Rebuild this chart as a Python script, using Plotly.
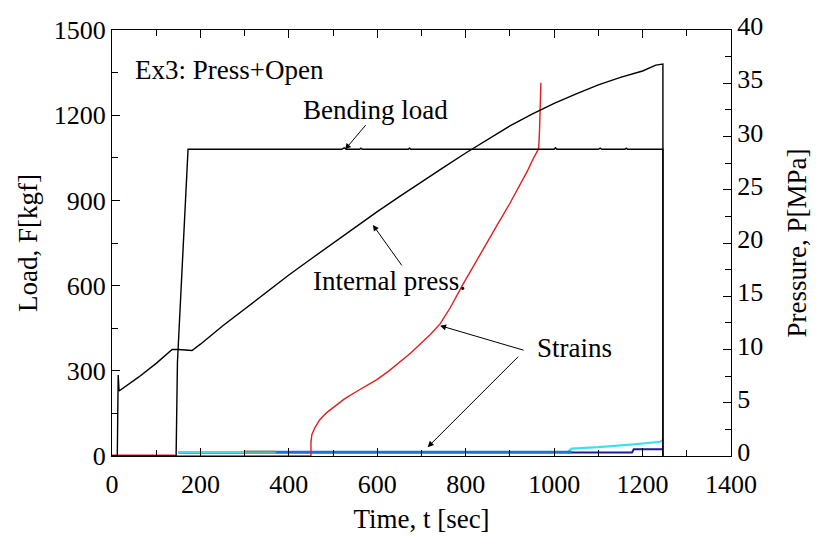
import plotly.graph_objects as go

# ---------------- data ----------------
# Internal pressure (MPa, right axis)
press_t = [0, 12, 14, 16, 60, 100, 136, 150, 181, 200, 250, 300, 350, 400, 450, 500, 550, 600,
           650, 700, 750, 800, 850, 900, 950, 1000, 1050, 1100, 1150, 1200, 1230, 1246, 1246]
press_p = [0, 0, 7.6, 6.1, 7.4, 8.7, 10.0, 10.0, 9.9, 10.5, 12.2, 13.8, 15.4, 17.0, 18.5, 20.0, 21.5, 22.95,
           24.35, 25.75, 27.1, 28.45, 29.75, 31.0, 32.1, 33.1, 34.0, 34.85, 35.55, 36.15, 36.7, 36.8, 0]

# Bending load (kgf, left axis)
load_t = [0, 145, 148, 172, 520, 525, 530, 560, 563, 566, 670, 673, 676, 1000, 1003, 1006,
          1100, 1104, 1108, 1160, 1163, 1166, 1246, 1246]
load_f = [0, 0, 330, 1080, 1080, 1085, 1080, 1080, 1084, 1080, 1080, 1084, 1080, 1080, 1085, 1080,
          1080, 1084, 1080, 1080, 1084, 1080, 1080, 0]

# Strains (plotted on load scale)
red_t = [0, 140, 145, 450, 450, 452, 459, 470, 485, 500, 525, 554, 575, 599, 625, 651, 675, 696,
         720, 742, 765, 794, 830, 870, 900, 922, 940, 952, 960, 965, 967, 968, 970]
red_v = [3, 3, 0, 0, 50, 75, 100, 128, 152, 170, 200, 228, 248, 269, 298, 331, 362, 393,
         428, 465, 522, 605, 700, 810, 890, 952, 1005, 1045, 1068, 1082, 1150, 1200, 1314]

navy_t = [150, 1176, 1180, 1246]
navy_v = [12, 12, 24, 24]

cyan_t = [150, 1030, 1040, 1100, 1180, 1240, 1246]
cyan_v = [14, 14, 26, 31, 41, 50, 56]

olive_t = [300, 370]
olive_v = [16, 16]

blue_t = [370, 1040]
blue_v = [14, 14]

x_ticks = [0, 200, 400, 600, 800, 1000, 1200, 1400]
y_ticks = [0, 300, 600, 900, 1200, 1500]
y2_ticks = [0, 5, 10, 15, 20, 25, 30, 35, 40]

FONT = "Liberation Serif"
TICK_SIZE = 26

fig = go.Figure()
fig.add_trace(go.Scatter(x=navy_t, y=navy_v, mode="lines", line=dict(color="#1c1c9a", width=2)))
fig.add_trace(go.Scatter(x=cyan_t, y=cyan_v, mode="lines", line=dict(color="#3fe0ee", width=2.2)))
fig.add_trace(go.Scatter(x=olive_t, y=olive_v, mode="lines", line=dict(color="#8c8472", width=2)))
fig.add_trace(go.Scatter(x=blue_t, y=blue_v, mode="lines", line=dict(color="#1f6fe0", width=2.5)))
fig.add_trace(go.Scatter(x=red_t, y=red_v, mode="lines", line=dict(color="#e01e1e", width=1.4)))
fig.add_trace(go.Scatter(x=load_t, y=load_f, mode="lines", line=dict(color="black", width=1.4)))
fig.add_trace(go.Scatter(x=press_t, y=press_p, mode="lines", yaxis="y2",
                         line=dict(color="black", width=1.4)))

axis_common = dict(showgrid=False, zeroline=False, showline=True, linecolor="black", linewidth=1.3,
                   ticks="inside", ticklen=8, tickcolor="black", tickwidth=1.3,
                   tickfont=dict(family=FONT, size=TICK_SIZE, color="black"))
title_font = dict(family=FONT, size=27, color="black")

fig.update_layout(
    width=820, height=545,
    margin=dict(l=112, r=89, t=21, b=89),
    paper_bgcolor="white", plot_bgcolor="white",
    showlegend=False,
    xaxis=dict(range=[0, 1400], tickvals=x_ticks, mirror="ticks", ticklabelstandoff=5,
               minor=dict(dtick=100, ticks="inside", ticklen=6, tickcolor="black", tickwidth=1.3),
               title=dict(text="Time, t [sec]", font=title_font, standoff=10),
               **axis_common),
    yaxis=dict(range=[0, 1500], tickvals=y_ticks,
               minor=dict(dtick=150, ticks="inside", ticklen=6, tickcolor="black", tickwidth=1.3),
               title=dict(text="Load, F[kgf]", font=title_font, standoff=8),
               **axis_common),
    yaxis2=dict(range=[0, 40], tickvals=y2_ticks, overlaying="y", side="right", ticklabelshift=-4,
                minor=dict(dtick=2.5, ticks="inside", ticklen=6, tickcolor="black", tickwidth=1.3),
                title=dict(text="Pressure, P[MPa]", font=title_font, standoff=24),
                **axis_common),
)

tfont = dict(family=FONT, size=27, color="black")


def px_to_paper(px, py):
    return (px - 112) / (731 - 112), (456 - py) / (456 - 21)


xx, yy = px_to_paper(133, 62)
fig.add_annotation(x=xx, y=yy, xref="paper", yref="paper", text="Ex3: Press+Open",
                   showarrow=False, font=tfont, xanchor="left", yanchor="middle")

for txt, (px, py) in [("Bending load", (375, 103)), ("Internal press.", (389, 277)), ("Strains", (574, 346))]:
    xx, yy = px_to_paper(px, py)
    fig.add_annotation(x=xx, y=yy, xref="paper", yref="paper", text=txt, showarrow=False,
                       font=tfont, xanchor="center", yanchor="middle")

arrow = dict(showarrow=True, arrowhead=2, arrowsize=1.2, arrowwidth=1, arrowcolor="black", text="",
             axref="pixel", ayref="pixel")
# Bending load arrow
fig.add_annotation(x=527, y=1079, xref="x", yref="y", ax=22, ay=-26, **arrow)
# Internal press arrow
fig.add_annotation(x=590, y=21.7, xref="x", yref="y2", ax=30, ay=42, **arrow)
# Strains arrows
fig.add_annotation(x=742, y=459, xref="x", yref="y", ax=85, ay=25, **arrow)
fig.add_annotation(x=714, y=31, xref="x", yref="y", ax=92, ay=-92, **arrow)

fig.write_html("out.html")
